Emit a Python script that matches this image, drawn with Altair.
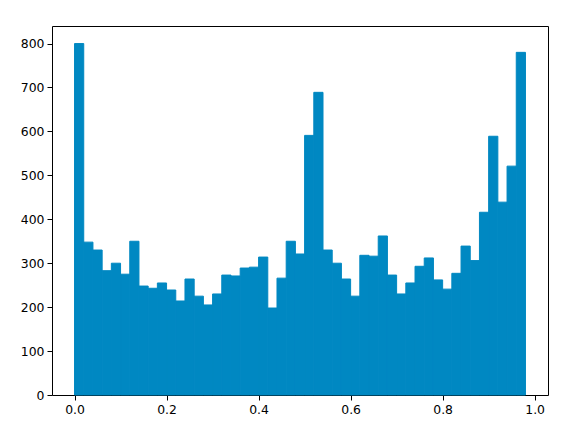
import altair as alt
import pandas as pd

bin_width = 0.02
counts = [800, 348, 330, 283, 300, 275, 350, 248, 243, 255,
          239, 214, 264, 225, 205, 230, 273, 271, 289, 291,
          314, 198, 266, 350, 321, 591, 689, 330, 300, 264,
          225, 318, 316, 362, 273, 230, 255, 293, 312, 262,
          241, 277, 339, 306, 416, 589, 439, 521, 780]
bin_start = [round(i * bin_width, 4) for i in range(len(counts))]
bin_end = [round(s + bin_width, 4) for s in bin_start]
x_ticks = [0.0, 0.2, 0.4, 0.6, 0.8, 1.0]
y_ticks = [0, 100, 200, 300, 400, 500, 600, 700, 800]

df = pd.DataFrame({"start": bin_start, "end": bin_end, "count": counts})

chart = alt.Chart(df).mark_rect(
    color="#0088c2", stroke="#0088c2", strokeWidth=1
).encode(
    x=alt.X("start:Q",
            scale=alt.Scale(domain=[-0.049, 1.029], nice=False, zero=False),
            axis=alt.Axis(values=x_ticks, format=".1f", title=None)),
    x2="end:Q",
    y=alt.Y("count:Q",
            scale=alt.Scale(domain=[0, 840], nice=False),
            axis=alt.Axis(values=y_ticks, format="d", title=None)),
    y2=alt.datum(0),
).properties(
    width=496,
    height=369,
    background="white",
    autosize=alt.AutoSizeParams(type="none"),
    padding={"left": 44, "top": 18, "right": 14, "bottom": 26},
).configure_view(
    stroke="black", strokeWidth=1
).configure_axis(
    grid=False,
    domain=False,
    tickColor="black",
    tickSize=5,
    tickWidth=1,
    labelFont="DejaVu Sans",
    labelFontSize=12.4,
    labelColor="black",
    labelPadding=3,
)

chart.save("out.html", embed_options={"renderer": "svg", "actions": False})
